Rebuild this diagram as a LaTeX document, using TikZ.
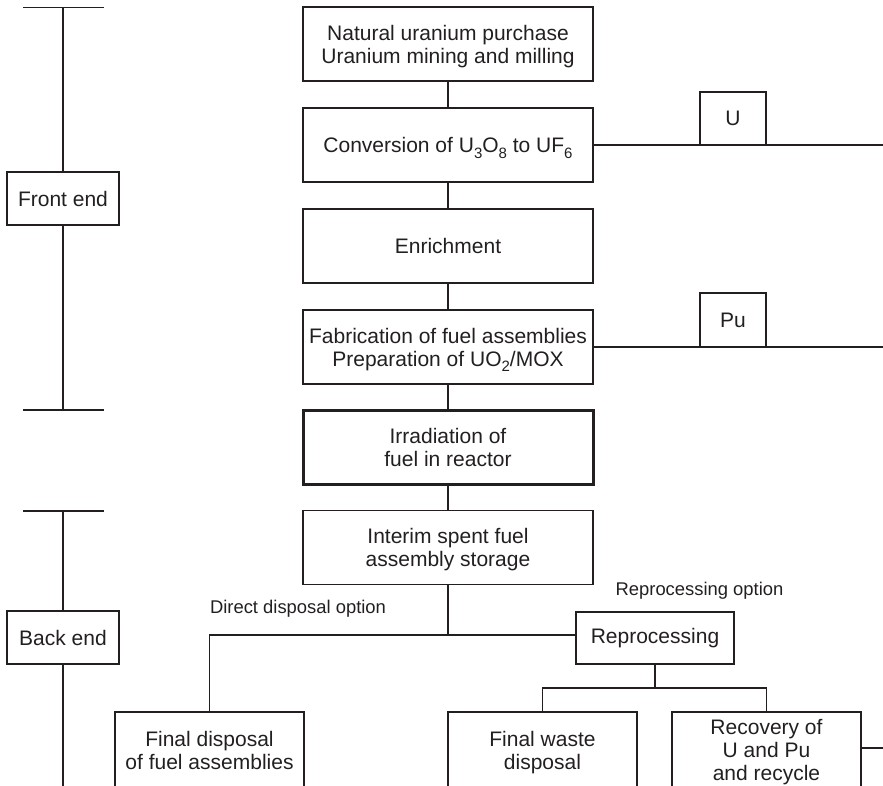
\documentclass[tikz,border=0pt]{standalone}
\usepackage{fontspec}
\setmainfont{Liberation Sans}
\definecolor{ink}{HTML}{231F20}
% a line whose descenders do not count when the box is centred
\newcommand{\flatline}[1]{\raisebox{0pt}[\height][0pt]{#1}}
% chemical-formula index, set low and fairly large
\newcommand{\chemidx}[1]{\raisebox{-0.28em}{\fontsize{15}{15}\selectfont #1}}
\begin{document}
\begin{tikzpicture}[x=1pt,y=-1pt,
  box/.style={draw=ink, line width=1.1pt, text=ink, align=center, inner sep=0pt,
    minimum width=290pt, minimum height=74pt,
    font=\fontsize{21}{23}\selectfont},
  keybox/.style={box, line width=3pt},
  tagbox/.style={box, minimum width=66pt, minimum height=53pt},
  phasebox/.style={box, minimum width=112pt, minimum height=53pt},
  endbox/.style={box, minimum width=189pt, minimum height=76pt},
  note/.style={text=ink, inner sep=0pt, font=\fontsize{18.4}{21}\selectfont},
  conn/.style={draw=ink, line width=1.1pt}]
\useasboundingbox (0,0) rectangle (883,785);
\clip (0,0) rectangle (883,785);

% main chain of the fuel cycle
\node[box] (mine) at (448,44) {Natural uranium purchase\\\flatline{Uranium mining and milling}};
\node[box] (conv) at (448,145) {\flatline{Conversion of U\chemidx{3}O\chemidx{8} to UF\chemidx{6}}};
\node[box] (enr) at (448,246) {Enrichment};
\node[box] (fab) at (448,347) {Fabrication of fuel assemblies\\\flatline{Preparation of UO\chemidx{2}/MOX}};
\node[keybox] (irr) at (448,447) {Irradiation of\\fuel in reactor};
\node[box] (stor) at (448,547.5) {Interim spent fuel\\\flatline{assembly storage}};

\draw[conn] (mine) -- (conv);
\draw[conn] (conv) -- (enr);
\draw[conn] (enr) -- (fab);
\draw[conn] (fab) -- (irr);
\draw[conn] (irr) -- (stor);

% recycled material streams
\node[tagbox, minimum height=53pt] (u) at (733,118.5) {U};
\node[tagbox, minimum height=54pt] (pu) at (733,320) {Pu};
\coordinate (uend) at (883,145);
\coordinate (puend) at (883,347);
\draw[conn] (conv.east) -- (uend);
\draw[conn] (fab.east) -- (puend);

% front end bracket
\node[phasebox] (front) at (63,198.5) {Front end};
\coordinate (ftop) at (63,7.5);
\coordinate (fbot) at (63,410);
\coordinate (ftl) at (23,7.5);
\coordinate (ftr) at (104,7.5);
\coordinate (fbl) at (23,410);
\coordinate (fbr) at (104,410);
\draw[conn] (ftl) -- (ftr);
\draw[conn] (fbl) -- (fbr);
\draw[conn] (ftop) -- (front.north);
\draw[conn] (front.south) -- (fbot);

% back end bracket
\node[phasebox] (back) at (63,637.5) {Back end};
\coordinate (btop) at (63,511);
\coordinate (bbot) at (63,786);
\coordinate (btl) at (23,511);
\coordinate (btr) at (104,511);
\draw[conn] (btl) -- (btr);
\draw[conn] (btop) -- (back.north);
\draw[conn] (back.south) -- (bbot);

% back end options
\node[note] (dlabel) at (298,609) {Direct disposal option};
\node[note] (rlabel) at (699.5,591) {Reprocessing option};
\node[box, minimum width=158pt, minimum height=52pt] (rep) at (655,638) {Reprocessing};
\node[endbox] (fd) at (209.5,750) {Final disposal\\of fuel assemblies};
\node[endbox] (fw) at (542.5,750) {Final waste\\\flatline{disposal}};
\node[endbox] (rec) at (766.5,750) {Recovery of\\U and Pu\\\flatline{and recycle}};

\coordinate (split) at (448,635);
\coordinate (dcorner) at (209.5,635);
\draw[conn] (stor.south) -- (split);
\draw[conn] (split) -- (rep.west |- split);
\draw[conn] (split) -- (dcorner) -- (fd.north);

\coordinate (rsplit) at (655,688);
\draw[conn] (rep.south) -- (rsplit);
\draw[conn] (fw.north) -- (fw.north |- rsplit) -- (rec.north |- rsplit) -- (rec.north);

\coordinate (recend) at (883,748);
\draw[conn] (rec.east |- recend) -- (recend);
\end{tikzpicture}
\end{document}
